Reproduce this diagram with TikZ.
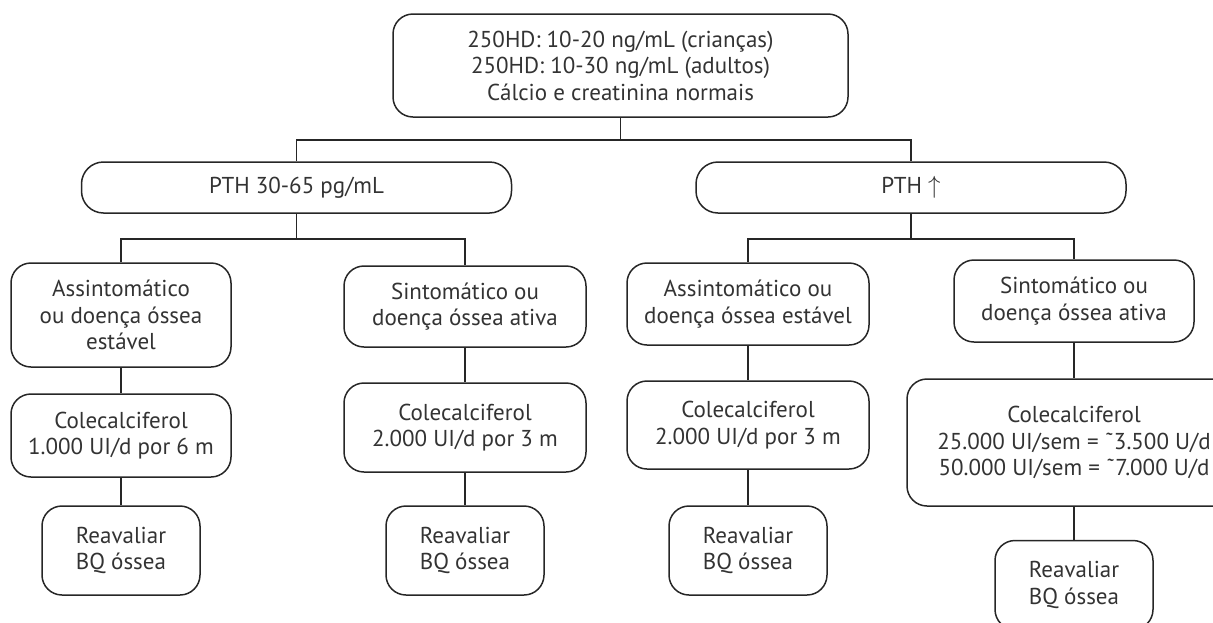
\documentclass[tikz,border=0pt]{standalone}
\usepackage{fontspec}
\setmainfont{PT Sans}
\usepackage{tikz}

\begin{document}
\begin{tikzpicture}[x=1pt,y=-1pt,line width=1.5pt]
    \tikzstyle{box}=[draw=black!85,rounded corners=20pt,align=center,inner sep=0pt,
      font=\fontsize{23}{26.5}\selectfont,text=black!80]
    \tikzstyle{pill}=[box,rounded corners=22pt,minimum width=430pt,minimum height=51pt]
    \tikzstyle{link}=[draw=black!85]
    \useasboundingbox (0,0) rectangle (1213,622);
    \node[box,minimum width=455pt,minimum height=103pt] (t) at (620.5,65.5)
    {250HD: 10-20 ng/mL (crianças)\\250HD: 10-30 ng/mL (adultos)\\Cálcio e creatinina normais};
    \node[pill] (p1) at (296.5,187.5) {PTH 30-65 pg/mL};
    \node[pill] (p2) at (911,187.5) {PTH $\uparrow$};
    % left branch
    \node[box,minimum width=220pt,minimum height=104pt] (a1) at (121,315)
    {Assintomático\\ou doença óssea\\estável};
    \node[box,minimum width=220pt,minimum height=83pt] (c1) at (121,435.5)
    {Colecalciferol\\1.000 UI/d por 6 m};
    \node[box,minimum width=158pt,minimum height=89pt] (r1) at (121,550.5)
    {Reavaliar\\BQ óssea};
    \node[box,minimum width=242pt,minimum height=81pt] (s1) at (465,306.5)
    {Sintomático ou\\doença óssea ativa};
    \node[box,minimum width=242pt,minimum height=89pt] (c2) at (465,427.5)
    {Colecalciferol\\2.000 UI/d por 3 m};
    \node[box,minimum width=158pt,minimum height=89pt] (r2) at (465,550.5)
    {Reavaliar\\BQ óssea};
    % right branch
    \node[box,minimum width=242pt,minimum height=82pt] (a2) at (748,304)
    {Assintomático ou\\doença óssea estável};
    \node[box,minimum width=242pt,minimum height=88pt] (c3) at (748,425)
    {Colecalciferol\\2.000 UI/d por 3 m};
    \node[box,minimum width=158pt,minimum height=89pt] (r3) at (748,550.5)
    {Reavaliar\\BQ óssea};
    \node[box,minimum width=240pt,minimum height=82pt] (s2) at (1074,301)
    {Sintomático ou\\doença óssea ativa};
    \node[box,minimum width=334pt,minimum height=127pt] (c4) at (1074,442.5)
    {Colecalciferol\\25.000 UI/sem = ˜3.500 U/d\\50.000 UI/sem = ˜7.000 U/d};
    \node[box,minimum width=158pt,minimum height=89pt] (r4) at (1074,585)
    {Reavaliar\\BQ óssea};
    \draw[link] (t.south) -- ++(0,22) -| (p1.north);
    \draw[link] (t.south) -- ++(0,22) -| (p2.north);
    \draw[link] (p1.south) -- ++(0,25) -| (a1.north);
    \draw[link] (p1.south) -- ++(0,25) -| (s1.north);
    \draw[link] (p2.south) -- ++(0,25) -| (a2.north);
    \draw[link] (p2.south) -- ++(0,25) -| (s2.north);
    \draw[link] (a1) -- (c1);
    \draw[link] (c1) -- (r1);
    \draw[link] (s1) -- (c2);
    \draw[link] (c2) -- (r2);
    \draw[link] (a2) -- (c3);
    \draw[link] (c3) -- (r3);
    \draw[link] (s2) -- (c4);
    \draw[link] (c4) -- (r4);
  \end{tikzpicture}
\end{document}
